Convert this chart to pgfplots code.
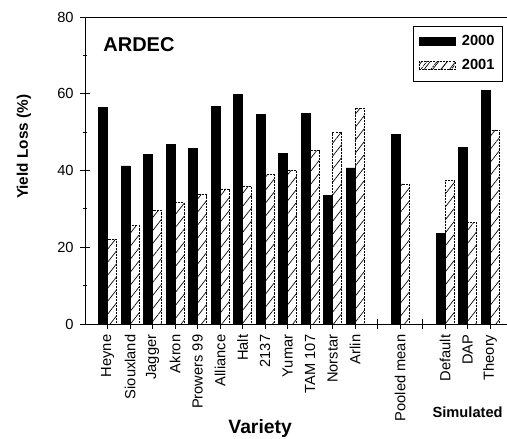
\documentclass[border=0pt]{standalone}
\usepackage{pgfplots}
\pgfplotsset{compat=1.18}
\usepackage{pgfplotstable}
\usepackage{fontspec}
\setmainfont{Liberation Sans}
\usetikzlibrary{patterns.meta}

% x, 2000, 2001
\pgfplotstableread{
x  a     b
1  56.5  22.1
2  41.2  25.6
3  44.2  29.6
4  46.9  31.6
5  45.7  33.7
6  56.8  35.2
7  59.8  35.9
8  54.6  38.9
9  44.5  40.1
10 54.8  45.2
11 33.5  50.0
12 40.7  56.2
14 49.4  36.5
16 23.7  37.4
17 46.1  26.5
18 60.9  50.6
}\yieldtab

\tikzset{
  hatchfill/.style={pattern={Lines[angle=52,distance=6pt,line width=0.5pt]}, draw=none},
  hatchline/.style={draw=black, line width=0.4pt, dash pattern=on 1.6pt off 0.8pt},
}

\begin{document}
\begin{tikzpicture}
\begin{axis}[
    name=ax,
    scale only axis,
    width=316.5pt, height=230.25pt,
    xmin=0, xmax=18.75,
    ymin=0, ymax=80,
    axis x line*=bottom,
    axis y line*=left,
    axis line style={line width=0.6pt},
    ybar=0pt,
    bar width=0.4,
    xtick={1,...,18},
    xticklabels={Heyne,Siouxland,Jagger,Akron,Prowers 99,Alliance,Halt,2137,Yumar,TAM 107,Norstar,Arlin,,Pooled mean,,Default,DAP,Theory},
    x tick label style={rotate=90, anchor=east, font=\fontsize{11}{12}\selectfont, xshift=-1pt},
    ytick={0,20,40,60,80},
    minor ytick={10,30,50,70},
    y tick label style={font=\fontsize{11}{12}\selectfont, xshift=-1.5pt},
    tick align=center,
    major tick length=7pt,
    minor tick length=3pt,
    major x tick style={draw=black, line width=0.6pt},
    tick style={line width=0.6pt, black},
    /pgf/number format/assume math mode=true,
    xlabel={\bfseries Variety},
    xlabel style={at={(rel axis cs:0.415,0)}, anchor=center, yshift=-78pt, font=\fontsize{14.5}{16}\selectfont},
    ylabel={\bfseries Yield Loss (\%)},
    ylabel style={at={(rel axis cs:0,0.577)}, anchor=center, yshift=45.75pt, font=\fontsize{11.5}{13}\selectfont},
    legend style={at={(0.99,0.972)}, anchor=north east, draw=black, line width=0.4pt,
        font=\bfseries\fontsize{11}{12}\selectfont, inner xsep=4pt, inner ysep=5pt, row sep=5pt},
    clip=false,
]
\addplot[fill=black, draw=black, bar shift=-0.2,
    legend image code/.code={\fill[black] (0pt,-3pt) rectangle (27pt,3pt); \path (30pt,0pt);}]
    table[x=x, y=a] {\yieldtab};
\addlegendentry{2000}
\addplot[hatchfill, bar shift=0.2,
    legend image code/.code={\fill[pattern={Lines[angle=52,distance=5pt,line width=0.5pt]}] (0pt,-3pt) rectangle (27pt,3pt);
      \draw[hatchline] (0pt,-3pt) rectangle (27pt,3pt); \path (30pt,0pt);}]
    table[x=x, y=b] {\yieldtab};
\addlegendentry{2001}
\addplot[hatchline, fill=none, bar shift=0.2, forget plot] table[x=x, y=b] {\yieldtab};

\draw[line width=0.6pt] (rel axis cs:0,1) -- (rel axis cs:1,1);
\node[anchor=north west, font=\bfseries\fontsize{15}{17}\selectfont, inner sep=0pt] at (rel axis cs:0.043,0.935) {ARDEC};
\node[font=\bfseries\fontsize{11}{12}\selectfont] at (axis cs:17,0) [yshift=-66pt] {Simulated};
\end{axis}
\pgfresetboundingbox
\path[use as bounding box] (ax.south west) ++(-63.75pt,-86.25pt) rectangle ++(380.25pt,329.25pt);
\end{tikzpicture}
\end{document}
